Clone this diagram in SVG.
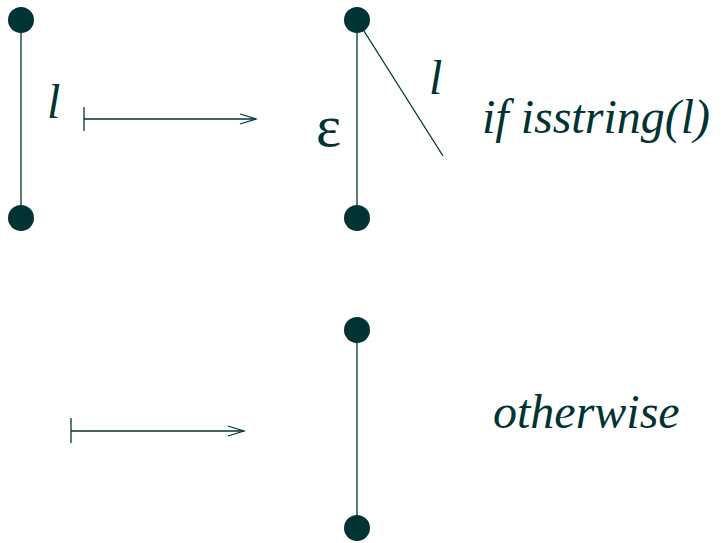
<svg xmlns="http://www.w3.org/2000/svg" width="721" height="543" viewBox="0 0 721 543">
<style>
.e{stroke:#003333;stroke-width:1.3;fill:none}
.n{fill:#003333}
</style>
<defs>
<marker id="ah" markerWidth="20" markerHeight="12" refX="18" refY="6" orient="auto" markerUnits="userSpaceOnUse">
<path d="M2,1 L18,6 L2,11" fill="none" stroke="#003333" stroke-width="1.3"/>
</marker>
</defs>
<g id="connectors">
<line class="e" x1="21" y1="20" x2="21" y2="218"/>
<line class="e" x1="357" y1="20" x2="357" y2="218"/>
<line class="e" x1="357" y1="20" x2="443" y2="156"/>
<line class="e" x1="357" y1="330" x2="357" y2="528"/>
<line class="e" x1="84" y1="119" x2="256" y2="119" marker-end="url(#ah)"/>
<line class="e" x1="84" y1="107" x2="84" y2="131"/>
<line class="e" x1="71" y1="431" x2="244" y2="431" marker-end="url(#ah)"/>
<line class="e" x1="71" y1="418" x2="71" y2="443"/>
</g>
<g id="n1"><circle class="n" cx="21" cy="20" r="13"/></g>
<g id="n2"><circle class="n" cx="21" cy="218" r="13"/></g>
<g id="n3"><circle class="n" cx="357" cy="20" r="13"/></g>
<g id="n4"><circle class="n" cx="357" cy="218" r="13"/></g>
<g id="n5"><circle class="n" cx="357" cy="330" r="13"/></g>
<g id="n6"><circle class="n" cx="357" cy="528" r="13"/></g>
<g id="labels" font-family="Liberation Serif" font-style="italic" font-size="48" fill="#003333">
<text x="47" y="118">l</text>
<text x="429" y="94">l</text>
<text x="482" y="133">if isstring(l)</text>
<text x="493" y="428">otherwise</text>
</g>
<g id="eps"><text x="316" y="146" font-family="Liberation Serif" font-size="60" fill="#003333">ε</text></g>
</svg>
